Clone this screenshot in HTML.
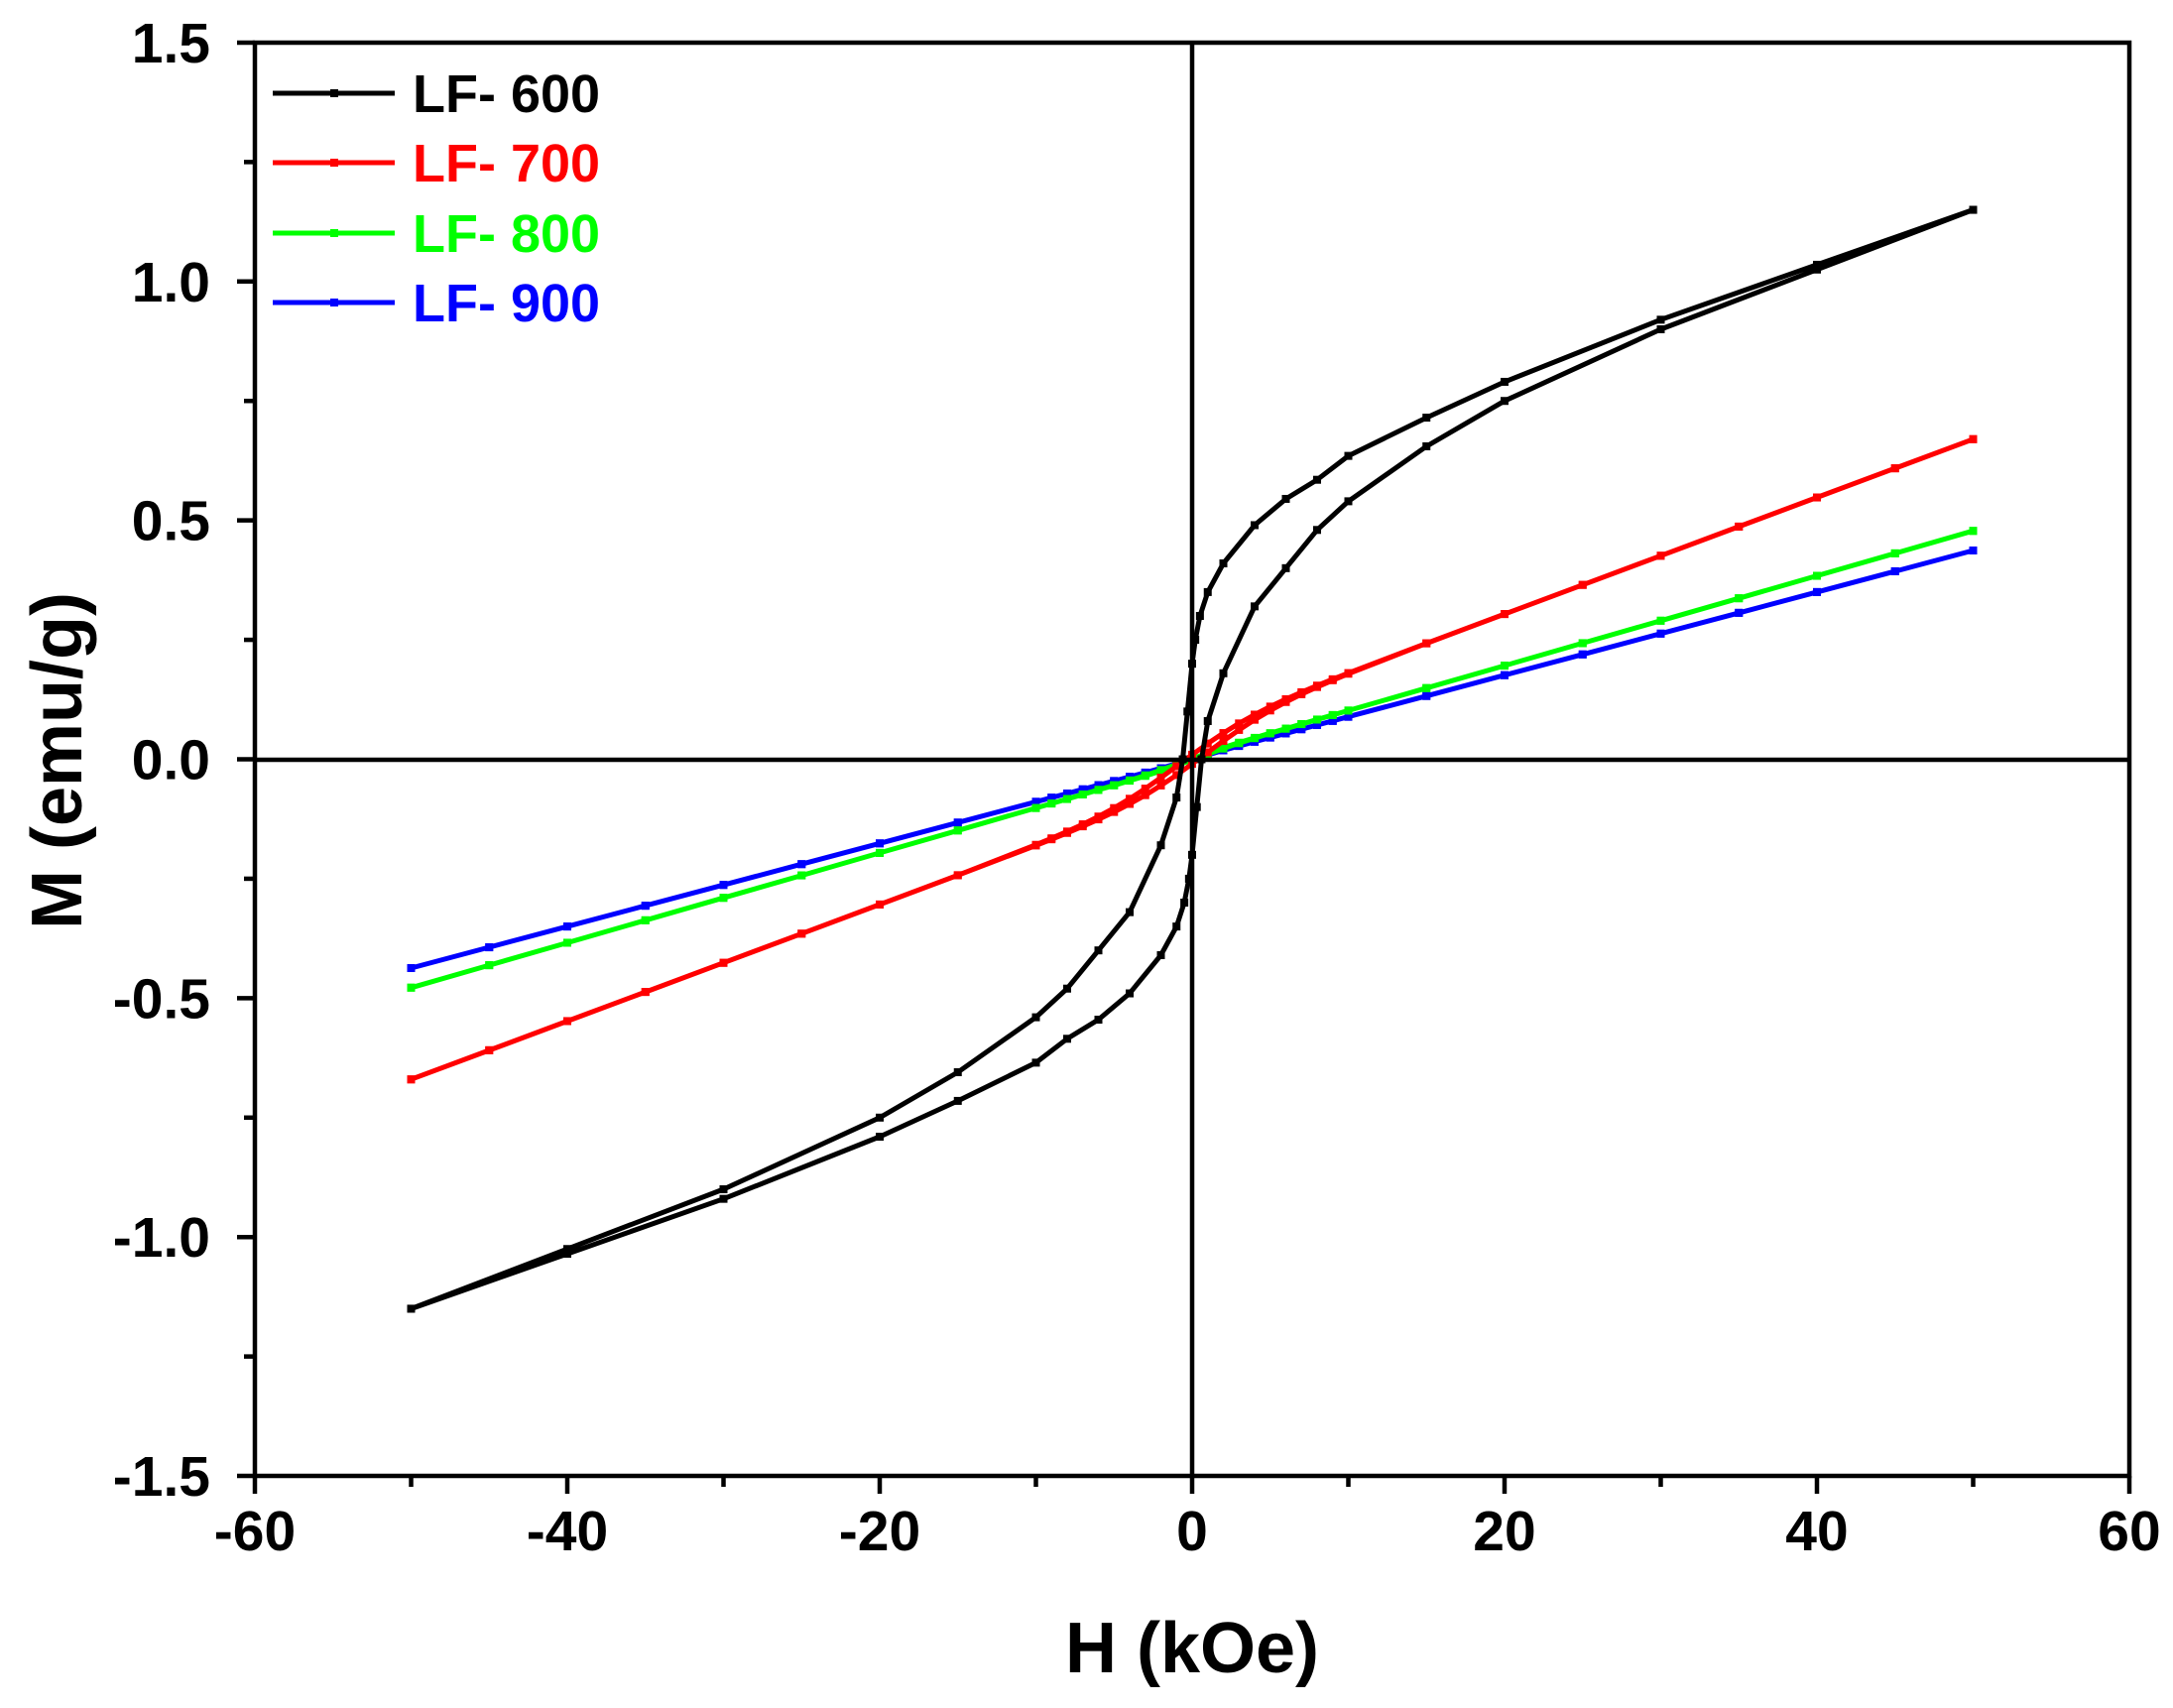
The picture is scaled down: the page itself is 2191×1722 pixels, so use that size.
<!DOCTYPE html>
<html><head><meta charset="utf-8"><style>
html,body{margin:0;padding:0;background:#fff}
svg text{font-family:"Liberation Sans",Arial,sans-serif;font-weight:bold}
</style></head><body>
<svg id="s" width="2191" height="1717" viewBox="0 0 2191 1717" xmlns="http://www.w3.org/2000/svg">
<rect width="2191" height="1717" fill="#fff"/>
<g id="data"></g>
<g stroke="#000" stroke-width="4.5" fill="none">
<rect x="257" y="43" width="1890" height="1445"/>
<line x1="1202" y1="43" x2="1202" y2="1488"/>
<line x1="257" y1="766" x2="2147" y2="766"/>
</g>
<g id="ticks" stroke="#000" stroke-width="4.5"></g>
<g id="labels" font-size="57" fill="#000"></g>
<text x="1202" y="1686" font-size="72" text-anchor="middle">H (kOe)</text>
<text transform="translate(82,767) rotate(-90)" font-size="72" text-anchor="middle">M (emu/g)</text>
<g font-size="54">
<line x1="275" y1="94" x2="398" y2="94" stroke="#000" stroke-width="5"/><rect x="333" y="90" width="8" height="8" fill="#000"/>
<text x="416" y="113" fill="#000">LF- 600</text>
<line x1="275" y1="164" x2="398" y2="164" stroke="#f00" stroke-width="5"/><rect x="333" y="160" width="8" height="8" fill="#f00"/>
<text x="416" y="183" fill="#f00">LF- 700</text>
<line x1="275" y1="235" x2="398" y2="235" stroke="#0f0" stroke-width="5"/><rect x="333" y="231" width="8" height="8" fill="#0f0"/>
<text x="416" y="254" fill="#0f0">LF- 800</text>
<line x1="275" y1="305" x2="398" y2="305" stroke="#00f" stroke-width="5"/><rect x="333" y="301" width="8" height="8" fill="#00f"/>
<text x="416" y="324" fill="#00f">LF- 900</text>
</g>
</svg>
<script>
var NS="http://www.w3.org/2000/svg";
function X(h){return 1202+h*15.75}
function Y(m){return 765.5-m*481.7}
function el(p,t,a,txt){var e=document.createElementNS(NS,t);for(var k in a)e.setAttribute(k,a[k]);if(txt!=null)e.textContent=txt;document.getElementById(p).appendChild(e);}
for(var v=-60;v<=60;v+=10){var maj=v%20==0;el("ticks","line",{x1:X(v),y1:1488,x2:X(v),y2:1488+(maj?18:11)});if(maj)el("labels","text",{x:X(v),y:1563,"text-anchor":"middle"},String(v));}
for(var i=-6;i<=6;i++){var m=i*0.25,maj=i%2==0;el("ticks","line",{x1:257,y1:Y(m),x2:257-(maj?18:11),y2:Y(m)});if(maj)el("labels","text",{x:212,y:Y(m)+20,"text-anchor":"end"},m.toFixed(1));}
var up=[[50,1.15],[40,1.035],[30,0.92],[20,0.79],[15,0.715],[10,0.635],[8,0.585],[6,0.545],[4,0.49],[2,0.41],[1,0.35],[0.5,0.3],[0.2,0.25],[0,0.2],[-0.3,0.1],[-0.6,0.0],[-1,-0.08],[-2,-0.18],[-4,-0.32],[-6,-0.4],[-8,-0.48],[-10,-0.54],[-15,-0.655],[-20,-0.75],[-30,-0.9],[-40,-1.025],[-50,-1.15]];
var lo=up.map(function(p){return [-p[0],-p[1]]});
function Hs(){var a=[];for(var h=50;h>10;h-=5)a.push(h);for(h=10;h>=-10;h-=1)a.push(h);for(h=-15;h>=-50;h-=5)a.push(h);return a;}
function series(f){var a=Hs(),u=a.map(function(h){return [h,f(h)]}),l=a.slice().reverse().map(function(h){return [h,-f(-h)]});return u.concat(l);}
function draw(pts,c){var s=pts.map(function(p){return X(p[0]).toFixed(1)+","+Y(p[1]).toFixed(1)}).join(" ");
el("data","polyline",{points:s,fill:"none",stroke:c,"stroke-width":5,"stroke-linejoin":"round"});
pts.forEach(function(p){el("data","rect",{x:X(p[0])-4,y:Y(p[1])-4,width:8,height:8,fill:c});});}
draw(series(function(h){return 0.0087*h+0.002*Math.tanh((h+0.5)/2)}),"#00f");
draw(series(function(h){return 0.0094*h+0.008*Math.tanh((h+0.5)/3)}),"#0f0");
draw(series(function(h){return 0.0122*h+0.06*Math.tanh((h+0.8)/5)}),"#f00");
draw(up.concat(lo),"#000");
</script>
</body></html>
